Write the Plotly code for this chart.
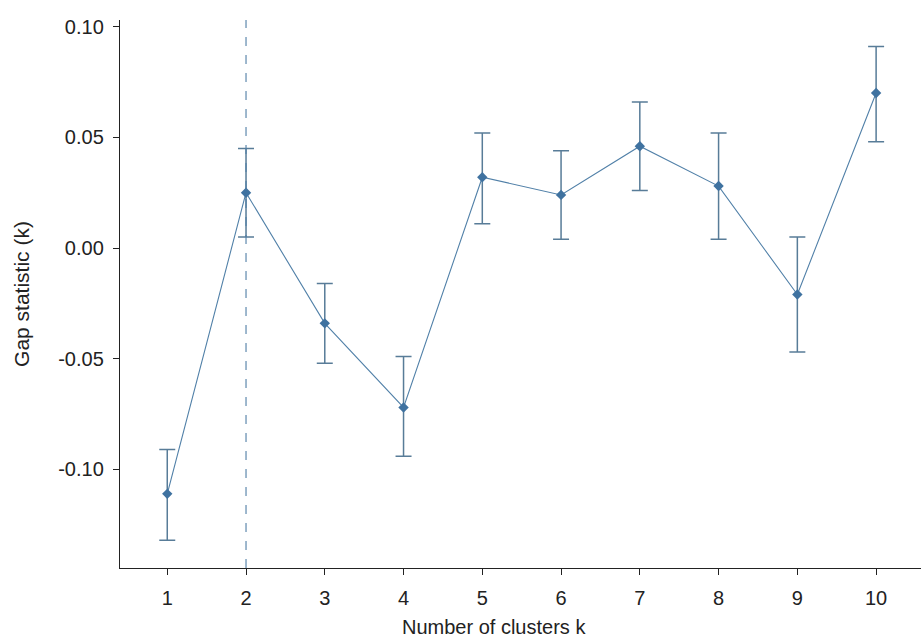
import plotly.graph_objects as go

k = [1, 2, 3, 4, 5, 6, 7, 8, 9, 10]
gap = [-0.111, 0.025, -0.034, -0.072, 0.032, 0.024, 0.046, 0.028, -0.021, 0.070]
upper = [-0.091, 0.045, -0.016, -0.049, 0.052, 0.044, 0.066, 0.052, 0.005, 0.091]
lower = [-0.132, 0.005, -0.052, -0.094, 0.011, 0.004, 0.026, 0.004, -0.047, 0.048]
optimal_k = 2
y_ticks = [-0.10, -0.05, 0.00, 0.05, 0.10]
y_tick_text = ["-0.10", "-0.05", "0.00", "0.05", "0.10"]

line_color = "#5180A8"
err_color = "#587C98"
marker_color = "#3F72A0"
err_plus = [u - g for u, g in zip(upper, gap)]
err_minus = [g - l for g, l in zip(gap, lower)]

fig = go.Figure()
fig.add_trace(go.Scatter(
    x=k, y=gap, mode="lines+markers",
    line=dict(color=line_color, width=1.1),
    marker=dict(color=marker_color, size=8, symbol="diamond"),
    error_y=dict(type="data", symmetric=False, array=err_plus, arrayminus=err_minus,
                 color=err_color, thickness=1.5, width=8),
    showlegend=False,
))
fig.add_vline(x=optimal_k, line=dict(color="#4F7EA5", width=1.1, dash="dash"))

font = "Liberation Sans, Arial, sans-serif"
txt = "#222222"
fig.add_annotation(
    text="Number of clusters k", xref="paper", yref="paper",
    x=0.467, y=-0.107, xanchor="center", yanchor="middle", showarrow=False,
    font=dict(size=20, family=font, color=txt),
)
fig.update_layout(
    width=921, height=642,
    margin=dict(l=120, r=0, t=20, b=74),
    plot_bgcolor="white", paper_bgcolor="white",
    font=dict(family=font, color=txt),
    xaxis=dict(
        range=[0.4, 10.57], tickmode="array", tickvals=k, ticktext=[str(v) for v in k],
        showline=True, linecolor="#222222", linewidth=1.4, showgrid=False, zeroline=False,
        ticks="outside", ticklen=6, tickcolor="#222222", tickwidth=1.4,
        ticklabelstandoff=6,
        tickfont=dict(size=20, family=font, color=txt),
    ),
    yaxis=dict(
        range=[-0.1445, 0.103], tickmode="array", tickvals=y_ticks, ticktext=y_tick_text,
        showline=True, linecolor="#222222", linewidth=1.4, showgrid=False, zeroline=False,
        ticks="outside", ticklen=6, tickcolor="#222222", tickwidth=1.4,
        ticklabelstandoff=5,
        tickfont=dict(size=20, family=font, color=txt),
        title=dict(text="Gap statistic (k)", font=dict(size=21, family=font, color=txt), standoff=22),
    ),
)
fig.write_html("out.html")
